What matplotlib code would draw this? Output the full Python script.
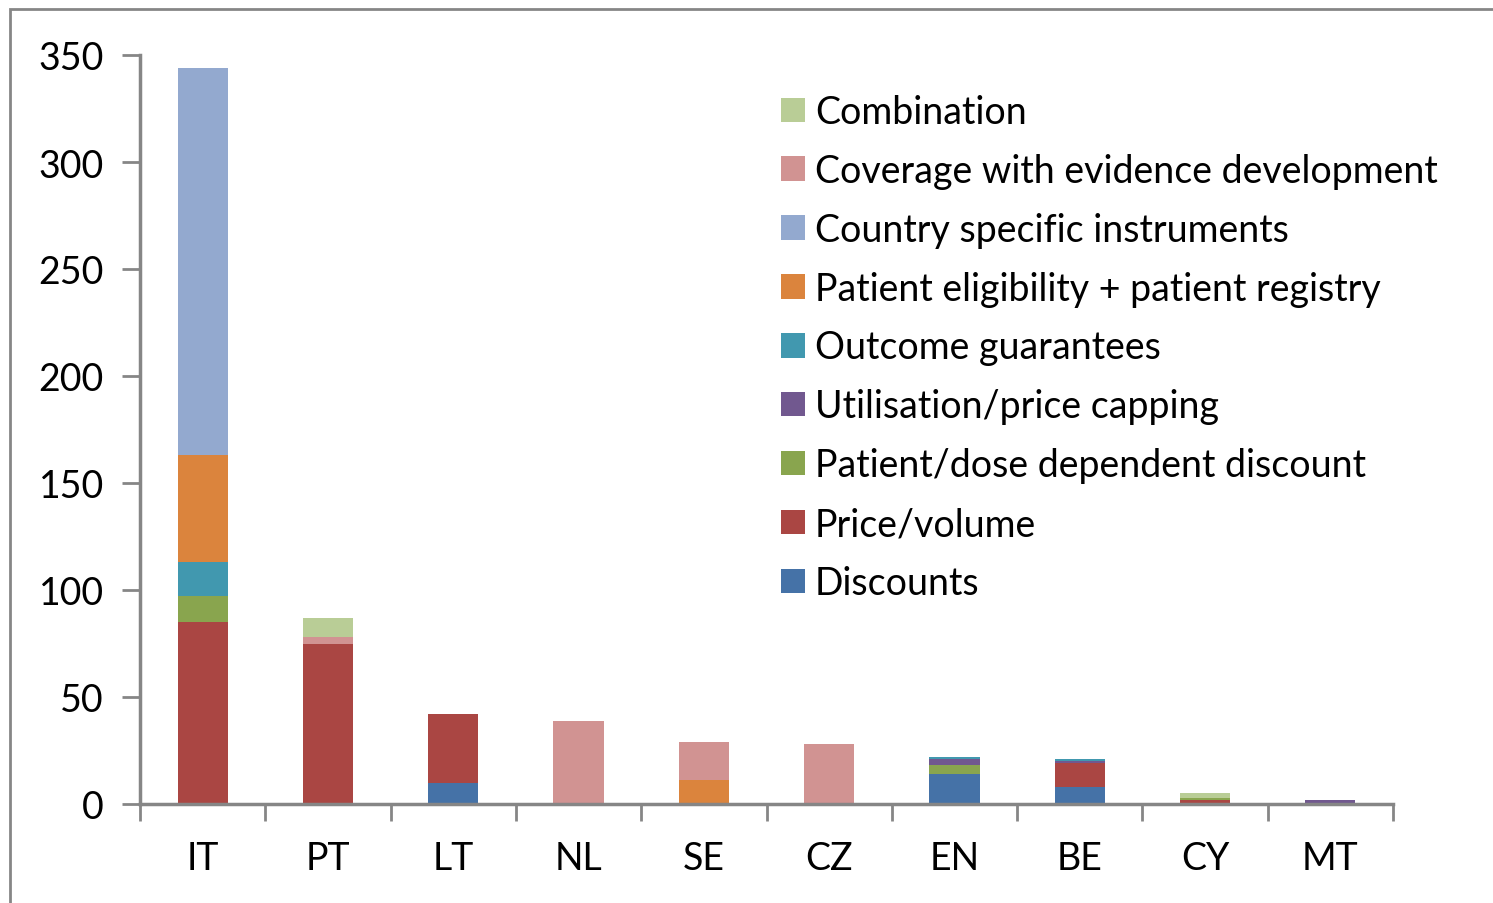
import matplotlib.pyplot as plt
import numpy as np
from matplotlib.patches import Rectangle

# Countries on the x axis
countries = ["IT", "PT", "LT", "NL", "SE", "CZ", "EN", "BE", "CY", "MT"]

# Series values (stack order bottom -> top)
discounts = [0, 0, 10, 0, 0, 0, 14, 8, 0, 0]
price_volume = [85, 75, 32, 0, 0, 0, 0, 11, 2, 0]
dose_discount = [12, 0, 0, 0, 0, 0, 4, 0, 1, 0]
price_capping = [0, 0, 0, 0, 0, 0, 3, 1, 0, 2]
outcome_guar = [16, 0, 0, 0, 0, 0, 1, 1, 0, 0]
eligibility = [50, 0, 0, 0, 11, 0, 0, 0, 0, 0]
country_specific = [181, 0, 0, 0, 0, 0, 0, 0, 0, 0]
coverage_evidence = [0, 3, 0, 39, 18, 28, 0, 0, 0, 0]
combination = [0, 9, 0, 0, 0, 0, 0, 0, 2, 0]

series = [
    ("Discounts", discounts, "#4572A7"),
    ("Price/volume", price_volume, "#AA4643"),
    ("Patient/dose dependent discount", dose_discount, "#89A54E"),
    ("Utilisation/price capping", price_capping, "#71588F"),
    ("Outcome guarantees", outcome_guar, "#4198AF"),
    ("Patient eligibility + patient registry", eligibility, "#DB843D"),
    ("Country specific instruments", country_specific, "#93A9CF"),
    ("Coverage with evidence development", coverage_evidence, "#D19392"),
    ("Combination", combination, "#B9CD96"),
]

plt.rcParams['font.family'] = ['Lato', 'DejaVu Sans']

fig = plt.figure(figsize=(14.93, 9.04), dpi=100)
ax = fig.add_axes([140 / 1493, 1 - 805 / 904, (1393 - 140) / 1493, (805 - 56) / 904])

x = np.arange(len(countries))
bottom = np.zeros(len(countries))
handles = []
for name, vals, color in series:
    vals = np.array(vals, dtype=float)
    b = ax.bar(x, vals, width=0.4, bottom=bottom, color=color, label=name,
               edgecolor="none")
    handles.append(b)
    bottom += vals

ax.set_xlim(-0.5, len(countries) - 0.5)
ax.set_ylim(0, 350)
ax.set_yticks(range(0, 351, 50))
ax.tick_params(axis="y", direction="out", length=13, width=2, color="#868686",
               labelsize=27, pad=13)

# x ticks at category boundaries, labels at centers
ax.set_xticks(np.arange(-0.5, len(countries), 1.0))
ax.set_xticklabels([])
ax.set_xticks(x, minor=True)
ax.set_xticklabels(countries, minor=True)
ax.tick_params(axis="x", which="major", direction="out", length=12, width=2,
               color="#868686")
ax.tick_params(axis="x", which="minor", length=0, labelsize=27, pad=26)

for s in ["top", "right"]:
    ax.spines[s].set_visible(False)
for s in ["left", "bottom"]:
    ax.spines[s].set_color("#868686")
    ax.spines[s].set_linewidth(2.5)

leg = ax.legend(handles[::-1], [s[0] for s in series][::-1],
                loc="upper left", bbox_to_anchor=(0.497, 0.973),
                frameon=False, fontsize=27, handlelength=0.63, handleheight=0.63,
                handletextpad=0.26, labelspacing=0.61, borderpad=0)

# outer chart border
fig.patches.append(Rectangle((10 / 1493, -0.1), 1.2, 1 - 10 / 904 + 0.1,
                             transform=fig.transFigure, fill=False,
                             edgecolor="#868686", linewidth=2))

fig.savefig("out.png", dpi=100)
